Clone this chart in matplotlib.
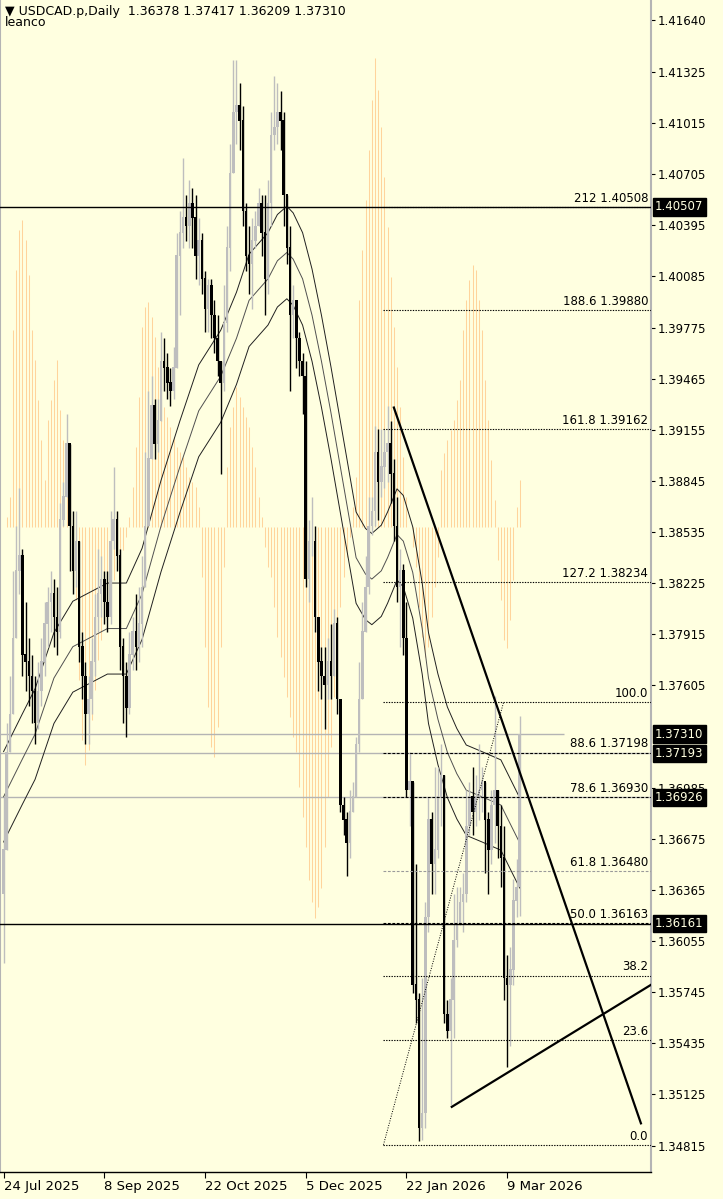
import numpy as np
import matplotlib
matplotlib.use('Agg')
import matplotlib.pyplot as plt
import matplotlib.transforms as mtrans

BG = '#FFFFE0'

# daily bars (open = previous close)
first_open = 1.3634
closes = [1.3661,1.3720,1.3743,1.3789,1.3830,1.3839,1.3779,1.3775,
          1.3766,
          1.3757,1.3738,1.3757,1.3775,1.3798,1.3811,1.3816,
          1.3802,
          1.3793,1.3861,1.3875,1.3907,1.3857,1.3830,1.3848,1.3784,1.3766,1.3743,1.3752,1.3775,1.3802,1.3816,1.3825,
          1.3811,
          1.3802,1.3848,1.3861,1.3839,1.3784,1.3766,1.3747,1.3779,1.3793,1.3784,
          1.3798,
          1.3820,1.3857,1.3898,1.3930,1.3907,1.3921,1.3957,1.3953,1.3944,1.3939,1.3953,1.4021,1.4035,1.4044,1.4039,1.4053,
          1.4044,
          1.4021,1.4030,1.4007,1.3989,1.4003,1.3985,
          1.3971,
          1.3957,1.3944,1.3980,1.4026,1.4071,1.4108,1.4112,1.4103,1.4048,1.4021,1.4016,1.4030,1.4039,1.4053,
          1.4035,
          1.4007,1.4053,1.4094,1.4099,1.4108,1.4103,1.4058,1.4026,1.3985,1.3994,1.3971,1.3957,1.3948,1.3825,1.3848,1.3848,1.3802,1.3775,1.3766,
          1.3761,1.3775,
          1.3766,1.3798,1.3752,1.3688,1.3679,1.3665,1.3684,
          1.3693,1.3725,1.3752,1.3793,1.3820,1.3857,1.3866,1.3902,1.3884,1.3893,
          1.3902,1.3907,1.3889,1.3857,1.3820,1.3830,1.3789,1.3697,1.3702,1.3579,1.3570,1.3492,1.3501,1.3620,1.3679,1.3652,1.3661,1.3693,1.3706,1.3561,1.3551,1.3570,1.3606,1.3615,1.3629,1.3634,1.3675,1.3693,
          1.3684,1.3693,1.3697,
          1.3702,1.3679,1.3661,1.3688,1.3697,1.3675,1.3656,1.3583,1.3579,1.3588,
          1.3630,1.3638,1.37310]
highs = [1.3693,1.3738,1.3766,1.3830,1.3857,1.3880,1.3843,1.3811,
         1.3789,
         1.3779,1.3766,1.3775,1.3789,1.3811,1.3820,1.3830,
         1.3825,
         1.3820,1.3871,1.3884,1.3925,1.3907,1.3866,1.3866,1.3848,1.3793,1.3775,1.3766,1.3789,1.3816,1.3843,1.3839,
         1.3830,
         1.3830,1.3866,1.3893,1.3866,1.3843,1.3789,1.3775,1.3793,1.3802,1.3816,
         1.3820,
         1.3839,1.3902,1.3939,1.3948,1.3934,1.3934,1.3975,1.3971,1.3962,1.3953,1.3966,1.4035,1.4048,1.4080,1.4058,1.4067,
         1.4062,
         1.4058,1.4044,1.4035,1.4012,1.4007,1.4007,
         1.3994,
         1.3985,1.3957,1.4003,1.4039,1.4089,1.4140,1.4140,1.4126,1.4112,1.4053,1.4039,1.4044,1.4048,1.4062,
         1.4058,
         1.4058,1.4067,1.4108,1.4130,1.4126,1.4121,1.4108,1.4058,1.4039,1.4003,1.3994,1.3975,1.3962,1.3957,1.3861,1.3875,1.3857,1.3798,1.3784,
         1.3784,1.3789,
         1.3798,1.3807,1.3802,1.3747,1.3693,1.3684,1.3697,
         1.3702,1.3729,1.3775,1.3811,1.3839,1.3875,1.3875,1.3918,1.3916,1.3916,
         1.3916,1.3930,1.3921,1.3898,1.3875,1.3843,1.3834,1.3811,1.3720,1.3702,1.3652,1.3574,1.3583,1.3629,1.3693,1.3684,1.3711,1.3711,1.3725,1.3702,1.3570,1.3583,1.3634,1.3638,1.3638,1.3647,1.3697,1.3702,
         1.3711,1.3706,1.3725,
         1.3711,1.3702,1.3684,1.3697,1.3754,1.3697,1.3688,1.3675,1.3597,1.3602,
         1.3643,1.3655,1.37417]
lows = [1.3592,1.3688,1.3720,1.3766,1.3811,1.3816,1.3766,1.3757,
        1.3748,
        1.3738,1.3725,1.3734,1.3748,1.3766,1.3784,1.3793,
        1.3784,
        1.3779,1.3789,1.3857,1.3875,1.3830,1.3816,1.3820,1.3775,1.3752,1.3725,1.3725,1.3743,1.3766,1.3793,1.3802,
        1.3798,
        1.3793,1.3798,1.3843,1.3830,1.3770,1.3738,1.3729,1.3743,1.3770,1.3770,
        1.3775,
        1.3784,1.3830,1.3884,1.3902,1.3898,1.3902,1.3925,1.3939,1.3934,1.3930,1.3934,1.3971,1.3985,1.4026,1.4030,1.4026,
        1.4026,
        1.4007,1.4003,1.3998,1.3975,1.3975,1.3971,
        1.3962,
        1.3948,1.3889,1.3939,1.3975,1.4012,1.4085,1.4089,1.4085,1.4039,1.4012,1.3998,1.3989,1.4026,1.4039,
        1.4021,
        1.3985,1.3998,1.4039,1.4085,1.4089,1.4085,1.4039,1.4016,1.3939,1.3971,1.3953,1.3948,1.3925,1.3820,1.3811,1.3839,1.3793,1.3757,1.3752,
        1.3734,1.3752,
        1.3752,1.3766,1.3743,1.3684,1.3670,1.3645,1.3656,
        1.3684,1.3697,1.3720,1.3766,1.3793,1.3816,1.3852,1.3857,1.3861,1.3875,
        1.3880,1.3884,1.3871,1.3848,1.3811,1.3784,1.3779,1.3693,1.3675,1.3574,1.3556,1.3484,1.3485,1.3492,1.3611,1.3634,1.3634,1.3656,1.3675,1.3556,1.3547,1.3506,1.3547,1.3602,1.3615,1.3611,1.3629,1.3670,
        1.3670,1.3675,1.3679,
        1.3684,1.3647,1.3634,1.3652,1.3665,1.3656,1.3638,1.3570,1.3529,1.3542,
        1.3579,1.3620,1.36209]

# oscillator histogram (own scale, drawn behind price)
osc = [0.0, 0.01, 0.03,
       0.197, 0.257, 0.297, 0.307, 0.287, 0.252, 0.197,
       0.167, 0.127, 0.087, 0.047,
       0.107, 0.127, 0.147, 0.167, 0.117,
       0.087, 0.057, 0.027, 0.007,
       -0.073, -0.153, -0.213, -0.238, -0.223, -0.193, -0.163, -0.133, -0.113, -0.093, -0.073, -0.063, -0.053, -0.043, -0.033, -0.023,
       -0.01, 0.01, 0.04, 0.08, 0.13,
       0.20, 0.22, 0.225, 0.21, 0.19, 0.16,
       0.125, 0.12, 0.11, 0.10, 0.09, 0.08, 0.075, 0.07, 0.06, 0.05, 0.045, 0.04, 0.02,
       -0.05, -0.12, -0.18, -0.22, -0.23, -0.20, -0.12, -0.04,
       0.06, 0.10, 0.12, 0.14, 0.13, 0.12, 0.11, 0.10, 0.08, 0.06,
       0.03, 0.01, -0.02, -0.04,
       -0.05, -0.08, -0.11, -0.13, -0.15, -0.17, -0.19, -0.21, -0.225, -0.26, -0.29, -0.32, -0.353, -0.375,
       -0.391, -0.38, -0.361, -0.32, -0.27, -0.22, -0.17, -0.12, -0.08, -0.05, -0.03, -0.01, 0.02, 0.05,
       0.227, 0.277, 0.327, 0.377, 0.427, 0.469, 0.437, 0.40, 0.35, 0.30, 0.25, 0.20, 0.16, 0.12, 0.07,
       0.03, 0.0, -0.02, -0.04,
       -0.08, -0.11, -0.13, -0.12, -0.09, -0.06, -0.03,
       0.057, 0.074, 0.087, 0.097, 0.107, 0.127,
       0.147, 0.197, 0.227, 0.247, 0.262, 0.257, 0.227, 0.197,
       0.147, 0.107, 0.067, 0.027,
       -0.033, -0.073, -0.113, -0.121, -0.093, -0.053,
       0.02, 0.047]

# moving average (middle of envelope), sampled at bar positions
ma_bar = [0, 6, 10, 16, 22, 27, 33, 39, 44, 50, 56, 62, 69, 74, 78, 84, 87, 90, 92, 95,
          98, 101, 104, 107, 110, 112, 115, 117, 120, 122, 125, 127, 130, 133, 135, 138,
          141, 144, 147, 152, 158, 164]
ma_mid = [1.3693, 1.3716, 1.3731, 1.3765, 1.3784, 1.3789, 1.3795, 1.3795, 1.3816, 1.3857,
          1.3893, 1.3927, 1.3948, 1.3971, 1.3994, 1.4007, 1.4018, 1.4023, 1.4019, 1.4007,
          1.3985, 1.3957, 1.3926, 1.3893, 1.3860, 1.3838, 1.3828, 1.3825, 1.3830, 1.3838,
          1.3852, 1.3848, 1.3829, 1.3795, 1.3765, 1.3740, 1.3720, 1.3707, 1.3697, 1.3693,
          1.3688, 1.3665]
env_dev = 0.002

date_ticks = [0, 32, 64, 96, 128, 160]
date_labels = ['24 Jul 2025', '8 Sep 2025', '22 Oct 2025', '5 Dec 2025', '22 Jan 2026', '9 Mar 2026']

price_ticks = [1.41640, 1.41325, 1.41015, 1.40705, 1.40395, 1.40085, 1.39775, 1.39465,
               1.39155, 1.38845, 1.38535, 1.38225, 1.37915, 1.37605, 1.36985,
               1.36675, 1.36365, 1.36055, 1.35745, 1.35435, 1.35125, 1.34815]

# fibonacci tool
fib_start = (120.7, 1.34820)
fib_end = (158.9, 1.37506)
fib_prices = [1.34820, 1.35454, 1.35846, 1.36163, 1.36480, 1.36930, 1.37198, 1.37506,
              1.38234, 1.39162, 1.39880, 1.40508]
fib_labels = ['0.0', '23.6', '38.2', '50.0 1.36163', '61.8 1.36480', '78.6 1.36930',
              '88.6 1.37198', '100.0', '127.2 1.38234', '161.8 1.39162', '188.6 1.39880', '212 1.40508']
fib_styles = ['dot', 'dot', 'dot', 'dash', 'dashgray', 'dash', 'dash', 'dot', 'dot', 'dot', 'dot', 'dot']

# trend lines (bar, price)
down_line = [(124.0, 1.3929), (202.5, 1.3495)]
up_line = [(142.4, 1.3505), (205.7, 1.3579)]

hlines_black = [1.40507, 1.36161]
hlines_gray = [1.37193, 1.36926]
bid = 1.37310
bid_end = 178
box_prices = [1.40507, 1.37310, 1.37193, 1.36926, 1.36161]

XMIN, XMAX = -1.14, 205.7
YMIN, YMAX = 1.34655, 1.41761

n = len(closes)
bars = np.arange(n)
c = np.array(closes)
o = np.concatenate([[first_open], c[:-1]])
h = np.maximum(np.array(highs), np.maximum(o, c))
l = np.minimum(np.array(lows), np.minimum(o, c))

fig = plt.figure(figsize=(7.23, 11.99), dpi=100, facecolor=BG)
rect = [0, 27/1199, 651/723, 1172/1199]

axh = fig.add_axes(rect)
axh.set_facecolor(BG)
axh.vlines(bars, 0, osc, color='#FFD49C', lw=0.75)
axh.set_xlim(XMIN, XMAX)
axh.set_ylim(-0.645, 0.527)
axh.set_xticks([]); axh.set_yticks([])
for s in axh.spines.values():
    s.set_visible(False)

ax = fig.add_axes(rect)
ax.patch.set_alpha(0)
ax.set_xlim(XMIN, XMAX)
ax.set_ylim(YMIN, YMAX)

# horizontal lines
for v in hlines_gray:
    ax.axhline(v, color='#B4B4B4', lw=1.0, zorder=1)
ax.hlines(bid, XMIN, bid_end, color='#B4B4B4', lw=1.0, zorder=1)

# envelope
mid = np.array(ma_mid)
ax.plot(ma_bar, mid * (1 + env_dev), color='#202020', lw=0.7, zorder=2)
ax.plot(ma_bar, mid, color='#505050', lw=0.7, zorder=2)
ax.plot(ma_bar, mid * (1 - env_dev), color='#202020', lw=0.7, zorder=2)

# candles
up = c >= o
for mask, col in [(up, '#BEBEBE'), (~up, 'black')]:
    ax.vlines(bars[mask], l[mask], h[mask], color=col, lw=1.0, zorder=3)
    ax.bar(bars[mask], np.abs(c - o)[mask] + 0.00003, bottom=np.minimum(o, c)[mask],
           width=0.8, color=col, edgecolor=col, lw=0, zorder=3)

# fib levels
styles = {'dot': ('black', (0, (1.2, 1.2))), 'dash': ('black', (0, (2.5, 1.5))),
          'dashgray': ('#9A9A9A', (0, (2.5, 1.5)))}
for p, lab, st in zip(fib_prices, fib_labels, fib_styles):
    col, ls = styles[st]
    ax.hlines(p, fib_start[0], XMAX, color=col, lw=0.8, linestyle=ls, zorder=4)
    ax.annotate(lab, (XMAX, p), xytext=(-2, 1.5), textcoords='offset points',
                ha='right', va='bottom', fontsize=8.5, color='black', zorder=6)
ax.plot([fib_start[0], fib_end[0]], [fib_start[1], fib_end[1]], color='black',
        lw=0.7, linestyle=(0, (1, 1.5)), zorder=4)

for v in hlines_black:
    ax.axhline(v, color='black', lw=1.0, zorder=4)

ax.plot(*zip(*down_line), color='black', lw=1.6, zorder=5)
ax.plot(*zip(*up_line), color='black', lw=1.6, zorder=5)

# axes styling
ax.spines['top'].set_visible(False)
ax.spines['left'].set_color('#B4B4B4')
ax.spines['left'].set_linewidth(1.5)
ax.spines['right'].set_color('#B4B4B4')
ax.spines['right'].set_linewidth(1.5)
ax.spines['bottom'].set_color('black')
ax.spines['bottom'].set_linewidth(1.0)

ax.yaxis.tick_right()
ax.set_yticks(price_ticks)
ax.set_yticklabels(['%.5f' % v for v in price_ticks])
ax.tick_params(axis='y', length=3, width=0.8, pad=2, labelsize=8.5, colors='black')
ax.set_xticks(date_ticks)
ax.set_xticklabels(date_labels)
ax.tick_params(axis='x', length=4, width=0.8, pad=2, labelsize=9.5)
for t in ax.get_xticklabels():
    t.set_horizontalalignment('left')

trans = mtrans.blended_transform_factory(ax.transAxes, ax.transData)
for v in box_prices:
    ax.text(1.006, v, '%.5f' % v, transform=trans, ha='left', va='center',
            fontsize=8.5, color=BG, zorder=10, clip_on=False,
            bbox=dict(boxstyle='square,pad=0.2', facecolor='black', edgecolor='black'))

fig.text(5/723, 1 - 12/1199, '\u25bc USDCAD.p,Daily  1.36378 1.37417 1.36209 1.37310',
         fontsize=9, va='center', ha='left')
fig.text(5/723, 1 - 23/1199, 'leanco', fontsize=9, va='center', ha='left')

fig.savefig('out.png', dpi=100, facecolor=BG)
